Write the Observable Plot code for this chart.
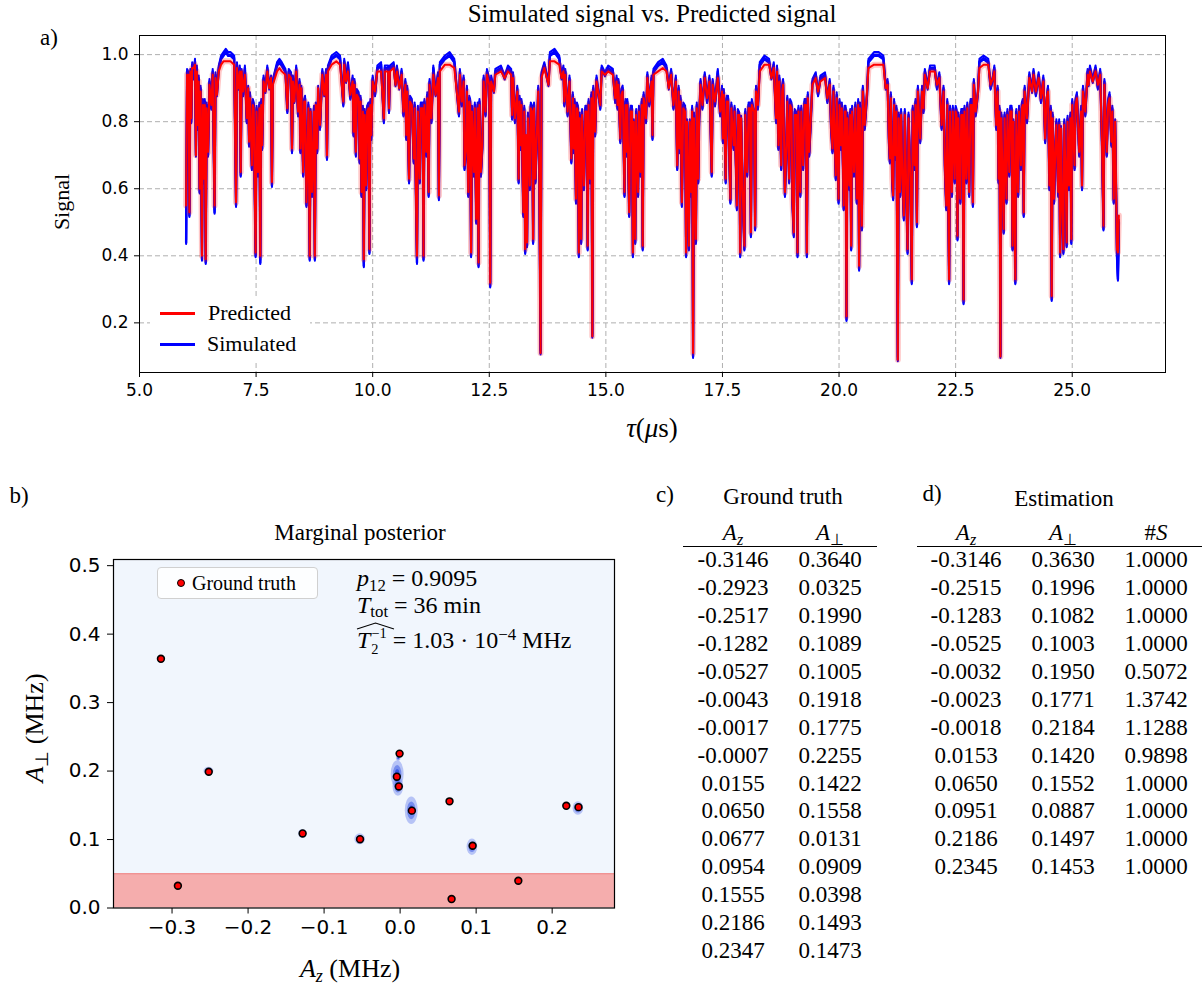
<!DOCTYPE html>
<html>
<head>
<meta charset="utf-8">
<script src="https://cdn.jsdelivr.net/npm/d3@7"></script>
<script src="https://cdn.jsdelivr.net/npm/@observablehq/plot@0.6"></script>
<style>
  html, body { margin: 0; padding: 0; background: #fff; }
  #fig { position: relative; width: 1202px; height: 990px; overflow: hidden;
         font-family: "Liberation Serif", serif; color: #000; }
  .abs { position: absolute; white-space: nowrap; line-height: 1; }
  .c { transform: translate(-50%, -50%); }
  .l { transform: translate(0, -50%); }
  .rot { transform: translate(-50%, -50%) rotate(-90deg); }
  .panel { position: absolute; }
  .panel svg { max-width: none !important; }
  sub, sup { font-size: 0.7em; line-height: 0; position: relative; vertical-align: baseline; }
  sub { top: 0.3em; }
  sup { top: -0.45em; }
</style>
</head>
<body>
<div id="fig"></div>
<script>
// ---------- a) signal trace: delay tau (µs), simulated and predicted signal ----------
const tau = [
  6.00,6.02,6.05,6.07,6.09,6.11,6.13,6.16,6.19,6.21,
  6.23,6.25,6.27,6.29,6.31,6.34,6.36,6.38,6.40,6.42,
  6.44,6.47,6.50,6.54,6.57,6.61,6.63,6.66,6.70,6.75,
  6.80,6.85,6.90,6.95,7.03,7.07,7.09,7.12,7.15,7.17,
  7.19,7.22,7.26,7.30,7.33,7.35,7.37,7.41,7.43,7.45,
  7.47,7.49,7.51,7.54,7.57,7.59,7.61,7.63,7.66,7.70,
  7.74,7.78,7.82,7.84,7.86,7.95,8.00,8.05,8.13,8.17,
  8.20,8.25,8.27,8.29,8.32,8.36,8.40,8.43,8.45,8.47,
  8.51,8.53,8.55,8.58,8.60,8.62,8.65,8.67,8.70,8.74,
  8.76,8.78,8.81,8.83,8.87,8.92,8.96,9.00,9.02,9.04,
  9.12,9.22,9.30,9.37,9.39,9.43,9.47,9.52,9.57,9.59,
  9.61,9.64,9.66,9.70,9.72,9.74,9.76,9.79,9.81,9.83,
  9.86,9.88,9.91,9.93,9.95,9.97,10.00,10.05,10.10,10.18,
  10.24,10.26,10.33,10.35,10.37,10.45,10.49,10.52,10.57,10.62,
  10.66,10.70,10.72,10.74,10.78,10.80,10.84,10.88,10.90,10.93,
  10.95,10.97,11.01,11.03,11.07,11.09,11.11,11.15,11.17,11.20,
  11.22,11.26,11.30,11.35,11.40,11.42,11.44,11.55,11.65,11.75,
  11.85,11.87,11.91,11.95,11.97,12.00,12.02,12.05,12.07,12.09,
  12.11,12.13,12.17,12.19,12.22,12.25,12.27,12.29,12.32,12.35,
  12.38,12.42,12.45,12.50,12.52,12.54,12.60,12.63,12.75,12.83,
  12.90,12.97,12.99,13.01,13.05,13.10,13.13,13.15,13.17,13.19,
  13.23,13.25,13.27,13.29,13.31,13.33,13.37,13.39,13.42,13.44,
  13.46,13.49,13.52,13.55,13.57,13.60,13.62,13.68,13.77,13.80,
  13.90,14.00,14.05,14.09,14.11,14.13,14.18,14.22,14.26,14.29,
  14.31,14.33,14.36,14.38,14.40,14.42,14.44,14.47,14.49,14.53,
  14.56,14.59,14.61,14.63,14.66,14.69,14.71,14.73,14.77,14.80,
  14.88,14.91,14.98,15.05,15.15,15.20,15.23,15.25,15.27,15.31,
  15.33,15.36,15.40,15.42,15.44,15.46,15.50,15.53,15.56,15.58,
  15.60,15.63,15.65,15.69,15.71,15.74,15.77,15.79,15.81,15.86,
  15.89,15.93,15.98,16.00,16.02,16.12,16.22,16.30,16.35,16.40,
  16.45,16.50,16.53,16.56,16.58,16.60,16.63,16.66,16.70,16.72,
  16.74,16.78,16.80,16.83,16.85,16.87,16.89,16.93,16.95,16.98,
  17.00,17.03,17.07,17.12,17.17,17.22,17.27,17.29,17.34,17.40,
  17.45,17.49,17.51,17.53,17.57,17.59,17.62,17.67,17.69,17.74,
  17.76,17.81,17.83,17.86,17.88,17.90,17.93,17.97,17.99,18.03,
  18.06,18.09,18.11,18.13,18.18,18.20,18.22,18.26,18.30,18.40,
  18.50,18.55,18.60,18.65,18.67,18.70,18.72,18.76,18.78,18.80,
  18.84,18.87,18.89,18.93,18.95,18.98,19.00,19.03,19.05,19.09,
  19.11,19.13,19.17,19.19,19.23,19.26,19.29,19.31,19.33,19.36,
  19.40,19.43,19.50,19.55,19.60,19.70,19.75,19.80,19.83,19.86,
  19.88,19.93,19.95,19.99,20.01,20.04,20.06,20.10,20.12,20.14,
  20.16,20.18,20.22,20.24,20.26,20.28,20.32,20.35,20.38,20.41,
  20.43,20.45,20.49,20.51,20.55,20.60,20.63,20.75,20.85,20.95,
  21.00,21.04,21.07,21.09,21.11,21.14,21.16,21.18,21.21,21.23,
  21.26,21.28,21.31,21.33,21.36,21.39,21.41,21.44,21.47,21.49,
  21.53,21.56,21.58,21.62,21.64,21.67,21.69,21.74,21.78,21.81,
  21.84,21.90,21.95,22.05,22.10,22.15,22.20,22.24,22.27,22.30,
  22.32,22.36,22.38,22.42,22.44,22.48,22.50,22.52,22.54,22.56,
  22.60,22.62,22.65,22.67,22.69,22.73,22.75,22.79,22.82,22.85,
  22.87,22.89,22.93,22.98,23.01,23.10,23.20,23.25,23.30,23.33,
  23.37,23.40,23.42,23.44,23.46,23.48,23.51,23.53,23.55,23.59,
  23.61,23.65,23.67,23.70,23.72,23.74,23.78,23.80,23.84,23.86,
  23.90,23.92,23.94,23.96,23.98,24.03,24.08,24.14,24.17,24.22,
  24.28,24.33,24.38,24.42,24.45,24.48,24.51,24.54,24.56,24.58,
  24.61,24.64,24.66,24.70,24.72,24.74,24.76,24.78,24.81,24.83,
  24.86,24.88,24.90,24.93,24.96,24.98,25.00,25.05,25.07,25.10,
  25.15,25.19,25.21,25.23,25.28,25.33,25.35,25.38,25.44,25.50,
  25.55,25.60,25.64,25.67,25.69,25.74,25.77,25.80,25.84,25.86,
  25.89,25.92,25.96,25.98,26.00
];
const simulated = [
  .44,.95,.94,.52,.95,.80,.97,.93,.98,.70,
  .96,.78,.93,.59,.90,.39,.86,.62,.86,.38,
  .85,.70,.92,.84,.95,.53,.94,.88,.96,.99,
  1.00,1.01,1.00,1.00,.99,.55,.97,.90,.96,.64,
  .95,.88,.96,.80,.90,.73,.88,.66,.86,.85,
  .60,.40,.84,.64,.85,.38,.86,.72,.93,.89,
  .96,.90,.93,.61,.92,.97,.98,.97,.95,.83,
  .95,.94,.71,.93,.86,.96,.82,.92,.71,.90,
  .64,.86,.87,.55,.68,.85,.39,.83,.58,.84,
  .39,.85,.71,.90,.78,.95,.88,.95,.69,.96,
  .99,1.00,.99,.85,.98,.92,.97,.87,.93,.76,
  .92,.70,.89,.88,.68,.87,.58,.84,.37,.83,
  .60,.84,.85,.41,.86,.75,.93,.88,.96,.97,
  .80,.96,.96,.83,.96,.97,.91,.96,.90,.95,
  .82,.92,.75,.90,.62,.87,.86,.68,.85,.56,
  .38,.84,.62,.85,.85,.39,.86,.70,.88,.58,
  .92,.80,.96,.88,.94,.57,.97,.99,1.00,.98,
  .82,.95,.85,.93,.66,.71,.90,.58,.87,.86,
  .40,.84,.64,.85,.50,.85,.37,.86,.64,.72,
  .93,.82,.95,.92,.31,.93,.89,.95,.96,.93,
  .96,.95,.81,.94,.80,.90,.62,.87,.72,.86,
  .52,.84,.41,.75,.43,.82,.60,.85,.84,.44,
  .85,.62,.75,.90,.70,.11,.94,.97,.91,1.00,
  1.01,.99,.93,.96,.85,.95,.82,.93,.68,.88,
  .71,.86,.56,.85,.84,.40,.82,.44,.83,.60,
  .84,.84,.42,.86,.62,.88,.16,.90,.76,.93,
  .84,.96,.94,.96,.95,.86,.93,.84,.92,.74,
  .89,.90,.58,.86,.70,.86,.52,.84,.84,.40,
  .80,.44,.83,.58,.84,.64,.86,.42,.88,.80,
  .94,.85,.93,.75,.95,.97,.98,.96,.90,.95,
  .84,.93,.66,.90,.71,.87,.55,.85,.84,.40,
  .80,.42,.80,.58,.84,.10,.82,.44,.85,.62,
  .80,.92,.84,.94,.86,.93,.64,.92,.85,.95,
  .82,.90,.74,.89,.62,.87,.87,.56,.85,.72,
  .84,.54,.83,.82,.40,.81,.60,.42,.83,.64,
  .85,.85,.46,.86,.82,.48,.90,.84,.97,.99,
  .98,.93,.97,.80,.96,.72,.93,.66,.90,.92,
  .58,.72,.87,.62,.86,.85,.56,.46,.83,.82,
  .40,.84,.58,.84,.66,.86,.86,.40,.88,.70,
  .82,.92,.94,.88,.93,.94,.86,.92,.78,.71,
  .90,.63,.88,.56,.86,.72,.85,.54,.84,.84,
  .21,.82,.60,.83,.42,.84,.64,.85,.56,.86,
  .36,.85,.48,.90,.78,.88,.98,1.00,1.00,.99,
  .90,.92,.74,.68,.88,.62,.57,.86,.69,.84,
  .09,.82,.58,.83,.62,.51,.83,.60,.41,.82,
  .62,.32,.84,.66,.86,.49,.90,.74,.90,.83,
  .95,.90,.96,.96,.90,.94,.78,.90,.66,.54,
  .86,.32,.84,.58,.84,.62,.84,.83,.45,.82,
  .56,.83,.83,.26,.84,.62,.85,.58,.86,.86,
  .55,.92,.82,.89,.98,.99,.98,.90,.93,.96,
  .78,.90,.62,.84,.10,.82,.60,.47,.82,.56,
  .83,.64,.84,.84,.42,.80,.32,.83,.58,.84,
  .66,.85,.86,.52,.90,.80,.94,.89,.95,.88,
  .94,.86,.93,.74,.86,.90,.60,.84,.27,.82,
  .56,.72,.80,.58,.80,.40,.78,.58,.41,.80,
  .62,.43,.81,.60,.82,.44,.86,.66,.86,.88,
  .70,.84,.60,.90,.82,.95,.91,.96,.92,.96,
  .90,.95,.72,.48,.92,.70,.86,.88,.73,.84,
  .56,.80,.40,.33,.50
];
const predicted = [
  .55,.94,.94,.53,.95,.81,.96,.96,.97,.70,
  .95,.79,.92,.60,.89,.40,.85,.63,.85,.39,
  .84,.71,.91,.85,.94,.55,.93,.88,.95,.97,
  .98,.98,.98,.98,.97,.56,.96,.90,.95,.65,
  .95,.89,.94,.81,.90,.74,.87,.67,.85,.84,
  .61,.41,.83,.65,.84,.40,.85,.73,.92,.89,
  .95,.90,.93,.62,.91,.95,.96,.95,.94,.84,
  .94,.93,.72,.92,.86,.95,.83,.91,.72,.90,
  .65,.86,.86,.56,.69,.84,.40,.83,.59,.83,
  .40,.85,.72,.90,.79,.94,.88,.94,.70,.95,
  .97,.98,.97,.86,.97,.92,.95,.88,.92,.77,
  .91,.71,.88,.87,.69,.86,.59,.83,.39,.82,
  .61,.83,.84,.42,.85,.76,.92,.89,.95,.95,
  .81,.95,.95,.84,.95,.96,.91,.95,.90,.94,
  .83,.91,.76,.89,.63,.86,.85,.69,.84,.57,
  .40,.83,.63,.84,.84,.40,.85,.71,.87,.59,
  .91,.81,.94,.88,.93,.58,.95,.97,.97,.96,
  .83,.94,.86,.92,.67,.72,.89,.59,.86,.85,
  .41,.83,.65,.84,.51,.84,.38,.85,.65,.73,
  .92,.83,.94,.91,.32,.92,.89,.94,.95,.93,
  .95,.94,.82,.93,.81,.89,.63,.86,.73,.85,
  .53,.83,.42,.76,.44,.81,.61,.84,.83,.45,
  .84,.63,.76,.89,.71,.11,.93,.96,.91,.98,
  .98,.97,.93,.95,.86,.94,.83,.92,.69,.87,
  .72,.85,.57,.84,.83,.41,.81,.45,.82,.61,
  .83,.83,.43,.85,.63,.87,.16,.89,.77,.92,
  .85,.95,.94,.95,.94,.87,.92,.85,.91,.75,
  .88,.89,.59,.85,.71,.85,.53,.83,.83,.41,
  .80,.45,.82,.59,.83,.65,.85,.43,.87,.81,
  .93,.86,.92,.76,.94,.95,.96,.95,.90,.94,
  .85,.92,.67,.89,.72,.86,.56,.84,.83,.41,
  .80,.43,.80,.59,.83,.11,.81,.45,.84,.63,
  .81,.91,.85,.93,.87,.92,.65,.91,.86,.93,
  .83,.89,.75,.88,.63,.86,.86,.57,.84,.73,
  .83,.55,.82,.82,.41,.81,.61,.43,.82,.65,
  .84,.84,.47,.85,.83,.49,.89,.85,.95,.97,
  .97,.93,.96,.81,.95,.73,.92,.67,.89,.91,
  .59,.73,.86,.63,.85,.84,.57,.47,.82,.82,
  .41,.83,.59,.83,.67,.85,.85,.41,.87,.71,
  .83,.91,.93,.89,.92,.93,.87,.91,.79,.72,
  .89,.64,.87,.57,.85,.73,.84,.55,.83,.83,
  .22,.81,.61,.82,.43,.83,.65,.84,.57,.85,
  .37,.84,.49,.89,.79,.89,.96,.97,.97,.97,
  .90,.91,.75,.69,.87,.63,.58,.85,.70,.83,
  .09,.81,.59,.82,.63,.52,.82,.61,.42,.81,
  .63,.33,.83,.67,.85,.50,.89,.75,.89,.84,
  .94,.90,.95,.95,.91,.93,.79,.89,.67,.55,
  .85,.33,.83,.59,.83,.63,.83,.82,.46,.81,
  .57,.82,.82,.27,.83,.63,.84,.59,.85,.85,
  .56,.91,.83,.89,.96,.97,.97,.91,.93,.95,
  .79,.89,.63,.83,.10,.81,.61,.48,.81,.57,
  .82,.65,.83,.83,.43,.80,.33,.82,.59,.83,
  .67,.84,.85,.53,.89,.81,.93,.89,.94,.89,
  .93,.87,.92,.75,.87,.89,.61,.83,.28,.81,
  .57,.73,.79,.59,.79,.41,.78,.59,.42,.79,
  .63,.44,.80,.61,.81,.45,.85,.67,.85,.87,
  .71,.83,.61,.89,.83,.94,.91,.95,.92,.95,
  .91,.94,.73,.49,.91,.71,.85,.87,.74,.83,
  .57,.80,.42,.41,.52
];
const tauTicks = [5, 7.5, 10, 12.5, 15, 17.5, 20, 22.5, 25];
const signalTicks = [0.2, 0.4, 0.6, 0.8, 1.0];

// ---------- b) / c) ground truth couplings (MHz) ----------
const gtAz    = [-0.3146, -0.2923, -0.2517, -0.1282, -0.0527, -0.0043, -0.0017, -0.0007,
                  0.0155,  0.0650,  0.0677,  0.0954,  0.1555,  0.2186,  0.2347];
const gtAperp = [ 0.3640,  0.0325,  0.1990,  0.1089,  0.1005,  0.1918,  0.1775,  0.2255,
                  0.1422,  0.1558,  0.0131,  0.0909,  0.0398,  0.1493,  0.1473];

// ---------- d) estimated couplings (MHz) and spin counts ----------
const estAz    = [-0.3146, -0.2515, -0.1283, -0.0525, -0.0032, -0.0023, -0.0018, 0.0153, 0.0650, 0.0951, 0.2186, 0.2345];
const estAperp = [ 0.3630,  0.1996,  0.1082,  0.1003,  0.1950,  0.1771,  0.2184, 0.1420, 0.1552, 0.0887, 0.1497, 0.1453];
const estS     = [ 1.0000,  1.0000,  1.0000,  1.0000,  0.5072,  1.3742,  1.1288, 0.9898, 1.0000, 1.0000, 1.0000, 1.0000];
// posterior half-widths (MHz) around each estimate
const postDz    = [0.003, 0.0065, 0.005, 0.007, 0.0085, 0.007, 0.003, 0.0085, 0.003, 0.007, 0.003, 0.007];
const postDperp = [0.003, 0.006,  0.006, 0.008, 0.020,  0.014, 0.004, 0.020,  0.003, 0.012, 0.003, 0.010];

const azTicks = [-0.3, -0.2, -0.1, 0.0, 0.1, 0.2];
const aperpTicks = [0.0, 0.1, 0.2, 0.3, 0.4, 0.5];
const lowCouplingLimit = 0.05;   // shaded region of unresolvable A_perp

const fig = document.getElementById("fig");
function put(html, x, y, size, cls = "c", extra = "") {
  const d = document.createElement("div");
  d.className = "abs " + cls;
  d.style.left = x + "px";
  d.style.top = y + "px";
  d.style.fontSize = size + "px";
  if (extra) d.style.cssText += extra;
  d.innerHTML = html;
  fig.appendChild(d);
  return d;
}
function box(x, y, w, h, css) {
  const d = document.createElement("div");
  d.style.cssText = `position:absolute;left:${x}px;top:${y}px;width:${w}px;height:${h}px;${css}`;
  fig.appendChild(d);
  return d;
}
function panel(svg, x, y) {
  const d = document.createElement("div");
  d.className = "panel";
  d.style.left = x + "px";
  d.style.top = y + "px";
  d.appendChild(svg);
  fig.appendChild(d);
}

// ---------- panel a ----------
const n = tau.length;
const topPlot = Plot.plot({
  width: 1202, height: 450,
  marginLeft: 139, marginRight: 37, marginTop: 35, marginBottom: 78,
  style: {fontFamily: "DejaVu Sans", fontSize: "17px", color: "#000", background: "transparent", overflow: "visible"},
  x: {domain: [5, 27], ticks: tauTicks, tickFormat: d3.format(".1f"), tickSize: 5, tickPadding: 6, label: null},
  y: {domain: [0.052, 1.057], ticks: signalTicks, tickFormat: d3.format(".1f"), tickSize: 5, tickPadding: 6, label: null},
  marks: [
    Plot.ruleX(tauTicks.slice(1), {stroke: "#b0b0b0", strokeDasharray: "5,3"}),
    Plot.ruleY(signalTicks, {stroke: "#b0b0b0", strokeDasharray: "5,3"}),
    // simulated trace, drawn with a slight vertical spread to show its shot noise
    Plot.line({length: n}, {x: tau, y: simulated, stroke: "#0000ff", strokeWidth: 2, dy: -2.5}),
    Plot.line({length: n}, {x: tau, y: simulated, stroke: "#0000ff", strokeWidth: 2, dy: 1.5}),
    Plot.line({length: n}, {x: tau, y: simulated, stroke: "#0000ff", strokeWidth: 2.4}),
    // predicted trace with its uncertainty halo
    Plot.line({length: n}, {x: tau, y: predicted, stroke: "#ff0000", strokeOpacity: 0.22, strokeWidth: 6}),
    Plot.line({length: n}, {x: tau, y: predicted, stroke: "#ff0000", strokeWidth: 2}),
    Plot.frame({stroke: "#000", strokeWidth: 1})
  ]
});
panel(topPlot, 0, 0);

put("Simulated signal vs. Predicted signal", 652, 13, 25);
put("a)", 49, 37, 23);
put("Signal", 62, 202, 22, "rot");
put("<i>τ</i>(<i>μ</i>s)", 652, 428, 27);

// legend of panel a
box(150, 298, 160, 64, "background:#fff;");
box(160, 311.5, 35, 3, "background:#ff0000;");
box(160, 342.5, 35, 3, "background:#0000ff;");
put("Predicted", 208, 313, 22, "l");
put("Simulated", 207, 344, 22, "l");

// ---------- panel b ----------
const xDom = [-0.377, 0.282];
const truth = gtAz.map((a, i) => ({az: a, ap: gtAperp[i]}));
const post = estAz.map((a, i) => ({az: a, ap: estAperp[i], dz: postDz[i], dp: postDperp[i]}));
const blob = (k, fill, op) => Plot.rect(post, {
  x1: d => d.az - k * d.dz, x2: d => d.az + k * d.dz,
  y1: d => d.ap - k * d.dp, y2: d => d.ap + k * d.dp,
  rx: 200, ry: 200, fill, fillOpacity: op
});
const scatter = Plot.plot({
  width: 650, height: 520,
  marginLeft: 113, marginRight: 36, marginTop: 89, marginBottom: 82.5,
  style: {fontFamily: "DejaVu Sans", fontSize: "20px", color: "#000", background: "transparent", overflow: "visible"},
  x: {domain: xDom, ticks: azTicks, tickFormat: d3.format(".1f"), tickSize: 6, tickPadding: 6, label: null},
  y: {domain: [0, 0.509], ticks: aperpTicks, tickFormat: d3.format(".1f"), tickSize: 6, tickPadding: 7, label: null},
  marks: [
    Plot.frame({fill: "#f1f6fd", stroke: null}),
    Plot.rect([lowCouplingLimit], {x1: xDom[0], x2: xDom[1], y1: 0, y2: d => d, fill: "#f5adad"}),
    Plot.ruleY([lowCouplingLimit], {stroke: "#ef8585", strokeWidth: 1.2}),
    blob(1.0, "#6f86ee", 0.45),
    blob(0.65, "#3f5ee6", 0.55),
    blob(0.35, "#1c3ee0", 0.7),
    Plot.dot(truth, {x: "az", y: "ap", r: 3.4, fill: "#ff0000", stroke: "#000", strokeWidth: 1.6}),
    Plot.frame({stroke: "#000", strokeWidth: 1.2})
  ]
});
panel(scatter, 0, 470);

put("b)", 19, 495, 23);
put("Marginal posterior", 360, 532, 23);
put("<i>A</i><sub>⊥</sub> (MHz)", 35, 728, 26, "rot");
put("<i>A</i><sub><i>z</i></sub> (MHz)", 350, 969, 26);

// legend of panel b
box(157, 567, 161, 32, "box-sizing:border-box;border:1.5px solid #d0d0d0;border-radius:4px;background:rgba(255,255,255,0.85);");
box(177, 579, 8, 8, "box-sizing:border-box;border:1.6px solid #000;border-radius:50%;background:#ff0000;");
put("Ground truth", 192, 583, 20, "l");

// fit summary
put("<i>p</i><sub>12</sub> = 0.9095", 357, 578, 24, "l");
put('<i>T</i><sub style="top:0.22em">tot</sub> = 36 min', 357, 605, 24, "l");
put('<i>T</i><span style="display:inline-block;vertical-align:-6px;font-size:0.6em;line-height:16px;margin-left:1px"><span style="display:block">−1</span><span style="display:block">2</span></span> = 1.03 · 10<sup>−4</sup> MHz', 357, 641, 24, "l");
const hat = document.createElementNS("http://www.w3.org/2000/svg", "svg");
hat.setAttribute("width", "40"); hat.setAttribute("height", "8");
hat.style.cssText = "position:absolute;left:356px;top:622px;overflow:visible";
hat.innerHTML = '<path d="M1,7 L19.5,1 L38,7" fill="none" stroke="#000" stroke-width="1.1"/>';
fig.appendChild(hat);

// ---------- tables c and d ----------
const fmt = v => (v < 0 ? "-" : "") + Math.abs(v).toFixed(4);
const rowY0 = 559.3, rowStep = 27.9, hdrY = 532;

put("c)", 665, 494, 23);
put("Ground truth", 783, 496, 23);
put("<i>A</i><sub><i>z</i></sub>", 733, hdrY, 23);
put("<i>A</i><sub>⊥</sub>", 830, hdrY, 23);
box(683, 545.5, 194, 1.2, "background:#000;");
gtAz.forEach((v, i) => put(fmt(v), 733, rowY0 + i * rowStep, 23));
gtAperp.forEach((v, i) => put(fmt(v), 830, rowY0 + i * rowStep, 23));

put("d)", 932, 493, 23);
put("Estimation", 1064, 498, 23);
put("<i>A</i><sub><i>z</i></sub>", 966, hdrY, 23);
put("<i>A</i><sub>⊥</sub>", 1063, hdrY, 23);
put("#<i>S</i>", 1156, hdrY, 23);
box(917, 545.5, 285, 1.2, "background:#000;");
estAz.forEach((v, i) => put(fmt(v), 966, rowY0 + i * rowStep, 23));
estAperp.forEach((v, i) => put(fmt(v), 1063, rowY0 + i * rowStep, 23));
estS.forEach((v, i) => put(fmt(v), 1156, rowY0 + i * rowStep, 23));
</script>
</body>
</html>
